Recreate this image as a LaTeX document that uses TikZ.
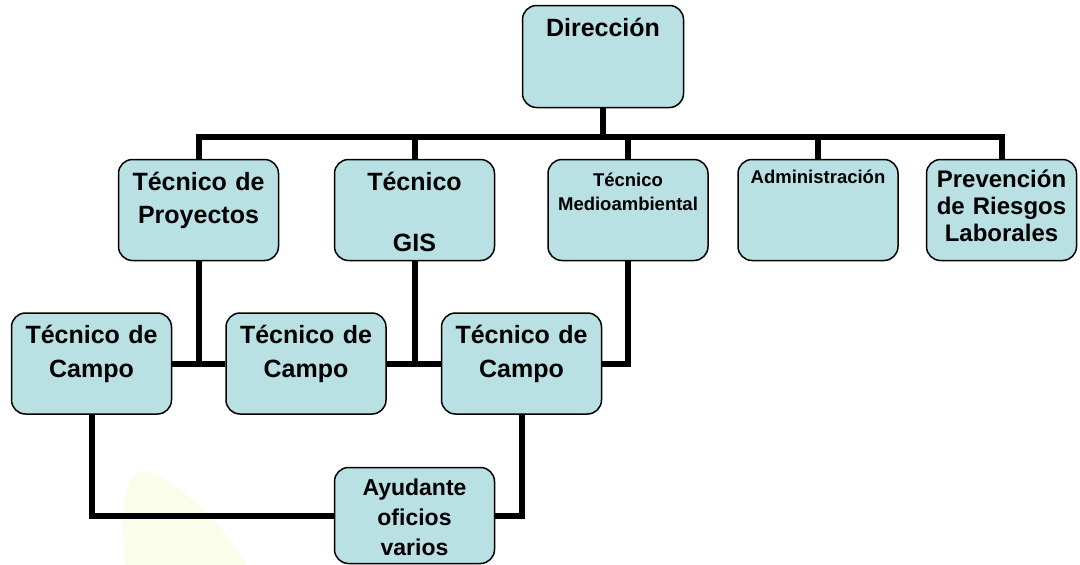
\documentclass[tikz,border=0pt]{standalone}
\usepackage{fontspec}
\setmainfont{Liberation Sans}
\definecolor{boxfill}{RGB}{185,224,226}
\definecolor{blobfill}{RGB}{251,253,235}

\begin{document}
\begin{tikzpicture}[x=1pt, y=-1pt,
    unit/.style={draw=black, line width=1.5pt, fill=boxfill, rounded corners=14pt,
      minimum width=160pt, minimum height=101pt, inner sep=0pt},
    lbl/.style={anchor=base, text width=158pt, align=center, inner sep=0pt,
      font=\bfseries\fontsize{25}{33}\selectfont},
    lbls/.style={lbl, font=\bfseries\fontsize{18.5}{24}\selectfont},
    link/.style={line width=6pt}]
    \useasboundingbox (0,0) rectangle (1080,565);
    % faint mark in the background
    \fill[blobfill] (125,565) .. controls (118,500) and (128,470) .. (145,471)
      .. controls (178,480) and (222,522) .. (246,565) -- cycle;

    \node[unit, minimum width=161pt, minimum height=102pt] (dir) at (603,56.5) {};
    \node[unit] (proy) at (198.5,210) {};
    \node[unit] (gis) at (414.5,210) {};
    \node[unit] (medio) at (628,210) {};
    \node[unit] (admin) at (818,210) {};
    \node[unit, minimum width=150pt] (prev) at (1001.5,210) {};
    \node[unit] (tc1) at (91.5,363.5) {};
    \node[unit] (tc2) at (306,363.5) {};
    \node[unit] (tc3) at (521.5,363.5) {};
    \node[unit, minimum height=96pt] (ayud) at (414.5,515.5) {};

    \node[lbl] (dirT) at (603,36) {Dirección};
    \node[lbl] (proyT) at (198.5,190) {Técnico de\\Proyectos};
    \node[lbl] (gisT) at (414.5,190) {Técnico\\[28pt]GIS};
    \node[lbls] (medioT) at (628,186) {Técnico\\Medioambiental};
    \node[lbls] (adminT) at (818,183) {Administración};
    \node[lbl, font=\bfseries\fontsize{24}{27}\selectfont] (prevT) at (1001.5,187)
      {Prevención\\de Riesgos\\Laborales};
    \foreach \n/\x in {tc1/91.5, tc2/306, tc3/521.5}
      \node[lbl, font=\bfseries\fontsize{25}{34}\selectfont] (\n T) at (\x,343)
        {Técnico de\\Campo};
    \node[lbl, font=\bfseries\fontsize{23}{30}\selectfont] (ayudT) at (414.5,495)
      {Ayudante\\oficios\\varios};

    % connectors
    \coordinate (bus) at (603,137);
    \draw[link] (dir.south) -- (bus);
    \draw[link] (proy.north) -- (proy.north |- bus) -- (prev.north |- bus) -- (prev.north);
    \foreach \n in {gis,medio,admin}
      \draw[link] (\n.north) -- (\n.north |- bus);
    \draw[link] (proy.south) -- (proy.south |- tc1.east);
    \draw[link] (tc1.east) -- (tc2.west);
    \draw[link] (gis.south) -- (gis.south |- tc2.east);
    \draw[link] (tc2.east) -- (tc3.west);
    \draw[link] (medio.south) |- (tc3.east);
    \draw[link] (tc1.south) |- (ayud.west);
    \draw[link] (tc3.south) |- (ayud.east);
  \end{tikzpicture}
\end{document}
